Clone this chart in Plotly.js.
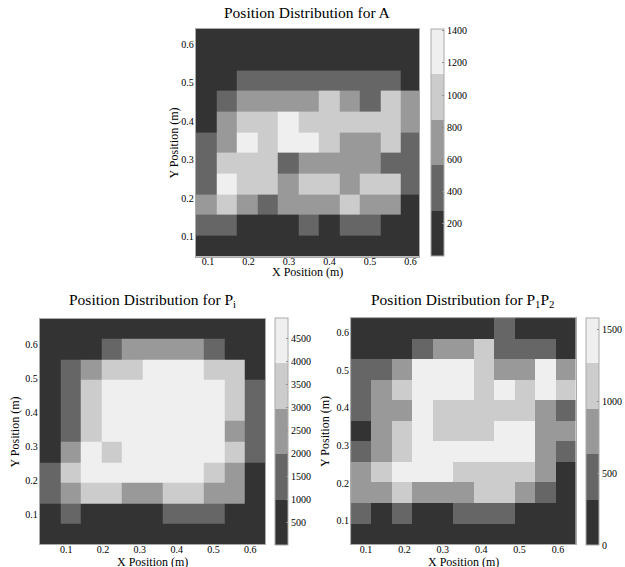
<!DOCTYPE html>
<html>
<head>
<meta charset="utf-8">
<script src="https://cdn.plot.ly/plotly-3.0.1.min.js"></script>
<style>html,body{margin:0;padding:0;background:#fff;}#chart{width:625px;height:567px;}</style>
</head>
<body>
<div id="chart"></div>
<script>
// ---- Data: cell centres (m) ----
const xA = [0.0953, 0.1460, 0.1967, 0.2474, 0.2981, 0.3488, 0.3995, 0.4502, 0.5009, 0.5516, 0.6023];
const yA = [0.614, 0.560, 0.506, 0.453, 0.399, 0.345, 0.291, 0.237, 0.184, 0.130, 0.076]; // top -> bottom
const zA = [
  [0, 0, 0, 0, 0, 0, 0, 0, 0, 0, 0],
  [0, 0, 5, 20, 40, 35, 30, 25, 15, 0, 0],
  [60, 180, 430, 470, 500, 520, 480, 450, 400, 380, 150],
  [140, 520, 700, 760, 720, 800, 980, 690, 530, 1010, 620],
  [230, 650, 1050, 1080, 1300, 1100, 1060, 1020, 1000, 960, 700],
  [350, 780, 1250, 1110, 1410, 1180, 920, 820, 760, 900, 520],
  [380, 950, 1000, 1020, 480, 730, 780, 800, 660, 540, 420],
  [400, 1200, 1100, 1050, 800, 930, 1000, 840, 960, 890, 460],
  [590, 900, 760, 520, 700, 820, 770, 950, 680, 620, 210],
  [340, 300, 220, 180, 250, 330, 240, 310, 350, 170, 60],
  [20, 40, 60, 70, 90, 80, 60, 50, 40, 30, 10]
];

const xPi = [0.0558, 0.1115, 0.1672, 0.2229, 0.2786, 0.3343, 0.3900, 0.4457, 0.5014, 0.5571, 0.6128];
const yPi = [0.645, 0.585, 0.525, 0.465, 0.405, 0.345, 0.285, 0.224, 0.164, 0.104, 0.044];
const zPi = [
  [0, 0, 10, 30, 60, 80, 70, 50, 20, 0, 0],
  [20, 200, 700, 1500, 2300, 2600, 2700, 2400, 1400, 600, 50],
  [150, 1300, 2600, 3400, 3800, 4200, 4500, 4300, 3600, 3200, 500],
  [300, 1500, 3500, 4400, 4700, 4800, 4900, 4600, 4100, 3700, 1300],
  [350, 1600, 3600, 4500, 4900, 4950, 4800, 4700, 4200, 3500, 1400],
  [400, 1700, 3700, 4300, 4800, 4900, 4750, 4600, 4000, 2900, 1500],
  [600, 2400, 4100, 3900, 4400, 4600, 4500, 4300, 4050, 3300, 1200],
  [1100, 3100, 4200, 4600, 4500, 4400, 4300, 4000, 3700, 2700, 800],
  [1000, 2500, 3300, 3200, 2800, 2900, 3100, 3050, 2700, 2200, 400],
  [300, 1050, 700, 500, 600, 900, 1200, 1300, 1100, 400, 100],
  [0, 20, 40, 60, 80, 90, 70, 40, 20, 10, 0]
];

const xP12 = [0.0876, 0.1408, 0.1940, 0.2472, 0.3004, 0.3536, 0.4068, 0.4600, 0.5132, 0.5664, 0.6196];
const yP12 = [0.6114, 0.5567, 0.5020, 0.4473, 0.3926, 0.3379, 0.2832, 0.2285, 0.1738, 0.1191, 0.0644];
const zP12 = [
  [0, 0, 20, 40, 80, 120, 200, 350, 150, 40, 0],
  [30, 100, 250, 500, 750, 820, 1050, 560, 450, 400, 120],
  [400, 500, 700, 1350, 1400, 1300, 1100, 800, 700, 1300, 660],
  [450, 750, 1000, 1450, 1500, 1380, 1150, 1290, 1050, 1350, 960],
  [480, 820, 900, 1400, 1200, 1100, 1050, 1150, 1000, 700, 420],
  [280, 780, 1100, 1500, 1150, 1200, 1100, 1350, 1400, 850, 720],
  [470, 880, 1200, 1580, 1450, 1500, 1400, 1450, 1300, 800, 500],
  [700, 1100, 1420, 1500, 1350, 1200, 1150, 1100, 1000, 780, 200],
  [680, 760, 1000, 900, 820, 850, 1050, 1100, 760, 450, 150],
  [400, 200, 450, 250, 300, 380, 420, 400, 180, 100, 50],
  [0, 20, 60, 90, 100, 110, 80, 60, 30, 10, 0]
];

const ticksA = [200, 400, 600, 800, 1000, 1200, 1400];
const ticksPi = [500, 1000, 1500, 2000, 2500, 3000, 3500, 4000, 4500];
const ticksP12 = [0, 500, 1000, 1500];
const axisTicks = [0.1, 0.2, 0.3, 0.4, 0.5, 0.6];
const titles = ['Position Distribution for A', 'Position Distribution for P<sub>i</sub>', 'Position Distribution for P<sub>1</sub>P<sub>2</sub>'];
const xTitle = 'X Position (m)';
const yTitle = 'Y Position (m)';

// ---- Styling ----
const W = 625, H = 567;
const FONT = "'Liberation Serif', 'Times New Roman', serif";
const grays = ['#333333', '#666666', '#999999', '#cccccc', '#efefef'];
const cs = [];
grays.forEach((c, i) => { cs.push([i / 5, c]); cs.push([(i + 1) / 5, c]); });

function cb(xpx, toppx, tickvals) {
  return {
    x: xpx / W, xanchor: 'left', xpad: 0, ypad: 0,
    y: 1 - toppx / H, yanchor: 'top',
    len: 227, lenmode: 'pixels',
    thickness: 13, thicknessmode: 'pixels',
    outlinewidth: 1, outlinecolor: '#aaaaaa',
    tickvals: tickvals, ticks: 'inside', ticklen: 2, tickcolor: '#888',
    tickfont: {family: FONT, size: 10, color: '#000'}
  };
}

const traces = [
  {type: 'heatmap', x: xA, y: yA, z: zA, zmin: 0, zmax: 1410, colorscale: cs,
   xaxis: 'x', yaxis: 'y', colorbar: cb(434, 29, ticksA), hoverinfo: 'skip'},
  {type: 'heatmap', x: xPi, y: yPi, z: zPi, zmin: 0, zmax: 4950, colorscale: cs,
   xaxis: 'x2', yaxis: 'y2', colorbar: cb(277, 318, ticksPi), hoverinfo: 'skip'},
  {type: 'heatmap', x: xP12, y: yP12, z: zP12, zmin: 0, zmax: 1580, colorscale: cs,
   xaxis: 'x3', yaxis: 'y3', colorbar: cb(589.5, 318, ticksP12), hoverinfo: 'skip'}
];

function ax(d0, d1, range, isX, anchor, standoff) {
  return {
    domain: isX ? [d0 / W, d1 / W] : [1 - d1 / H, 1 - d0 / H],
    range: range, anchor: anchor,
    tickvals: axisTicks, ticktext: axisTicks.map(v => v.toFixed(1)),
    ticks: '', showgrid: false, zeroline: false,
    showline: true, mirror: true, linecolor: '#aaaaaa', linewidth: 1,
    ticklabelstandoff: standoff,
    tickfont: {family: FONT, size: 10, color: '#000'}
  };
}

function ann(text, xpx, ypx, size, angle) {
  return {text: text, x: xpx / W, y: 1 - ypx / H, xref: 'paper', yref: 'paper',
          xanchor: 'center', yanchor: 'middle', showarrow: false, textangle: angle || 0,
          font: {family: FONT, size: size, color: '#000'}};
}

const layout = {
  width: W, height: H,
  margin: {l: 0, r: 0, t: 0, b: 0},
  paper_bgcolor: '#fff', plot_bgcolor: '#fff',
  showlegend: false,
  xaxis: ax(197, 422, [0.070, 0.622], true, 'y', -5),
  yaxis: ax(29, 256.5, [0.049, 0.640], false, 'x', -1),
  xaxis2: ax(40, 266.7, [0.028, 0.640], true, 'y2', -4),
  yaxis2: ax(318.7, 544.3, [0.014, 0.675], false, 'x2', -1),
  xaxis3: ax(353.3, 579.3, [0.061, 0.646], true, 'y3', -4),
  yaxis3: ax(318, 544.3, [0.037, 0.639], false, 'x3', -1),
  annotations: [
    ann(titles[0], 309.5, 13, 15.5),
    ann(titles[1], 153, 300, 15.5),
    ann(titles[2], 466, 300, 15.5),
    ann(xTitle, 309.5, 272, 12),
    ann(xTitle, 153, 562, 12),
    ann(xTitle, 466, 562, 12),
    ann(yTitle, 175, 142.5, 12, -90),
    ann(yTitle, 15, 431.5, 12, -90),
    ann(yTitle, 327, 431, 12, -90)
  ]
};

Plotly.newPlot('chart', traces, layout, {displayModeBar: false, staticPlot: true});
</script>
</body>
</html>
